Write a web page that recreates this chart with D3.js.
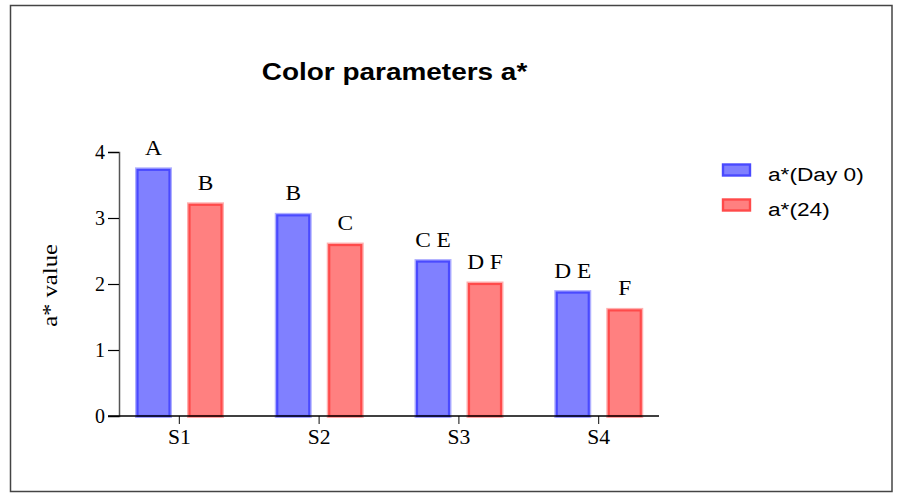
<!DOCTYPE html>
<html>
<head>
<meta charset="utf-8">
<script src="https://cdn.jsdelivr.net/npm/d3@7"></script>
<style>
  html, body { margin: 0; padding: 0; background: #fff; }
  svg { display: block; }
</style>
</head>
<body>
<svg id="chart" width="901" height="496"></svg>
<script>
// Samples and measurement series
const categories = ["S1", "S2", "S3", "S4"];
const seriesNames = ["a*(Day 0)", "a*(24)"];
const day0Values = [3.73, 3.04, 2.34, 1.87];
const day24Values = [3.20, 2.59, 2.00, 1.60];
const day0Letters = ["A", "B", "C E", "D E"];
const day24Letters = ["B", "C", "D F", "F"];
const yTicks = [0, 1, 2, 3, 4];

const fills = ["#8080ff", "#ff8080"];
const strokes = ["#4a4aff", "#ff4a4a"];
const halos = ["#b0b0ff", "#ffb0b0"];

const SANS = "Liberation Sans, Arial, Helvetica, sans-serif";
const SERIF = "Liberation Serif, Times New Roman, serif";

const rows = categories.map((c, i) => ({
  cat: c,
  vals: [
    { s: 0, v: day0Values[i], lab: day0Letters[i] },
    { s: 1, v: day24Values[i], lab: day24Letters[i] }
  ]
}));

const svg = d3.select("#chart");

// Text that is slightly widened along its writing direction
function wideText(parent, x, y, str, opts) {
  const g = parent.append("g")
    .attr("transform", `translate(${x},${y}) rotate(${opts.rotate || 0}) scale(${opts.sx || 1},1)`);
  return g.append("text")
    .attr("text-anchor", opts.anchor || "middle")
    .attr("font-family", opts.family)
    .attr("font-size", opts.size)
    .attr("font-weight", opts.weight || "normal")
    .attr("fill", "#000")
    .text(str);
}

// Outer frame
svg.append("rect")
  .attr("x", 10.5).attr("y", 5.5)
  .attr("width", 881.5).attr("height", 486)
  .attr("fill", "none")
  .attr("stroke", "#444")
  .attr("stroke-width", 1.5);

const x = d3.scaleBand().domain(categories).range([109.5, 668.5]);
const x1 = d3.scaleBand().domain([0, 1]).range([28, 112]).paddingInner(20 / 52);
const y = d3.scaleLinear().domain([0, 4]).range([416, 152]);

// Title
wideText(svg, 394.5, 79.5, "Color parameters a*",
  { family: SANS, size: 23.3, weight: "bold", sx: 1.2 });

// Bars
const groups = svg.append("g").selectAll("g")
  .data(rows).join("g")
  .attr("transform", d => `translate(${x(d.cat)},0)`);

groups.selectAll("rect.halo")
  .data(d => d.vals).join("rect")
  .attr("class", "halo")
  .attr("x", d => x1(d.s) - 0.5)
  .attr("y", d => y(d.v) - 0.5)
  .attr("width", x1.bandwidth() + 1)
  .attr("height", d => y(0) - y(d.v) + 0.5)
  .attr("fill", "none")
  .attr("stroke", d => halos[d.s])
  .attr("stroke-width", 4);

groups.selectAll("rect.bar")
  .data(d => d.vals).join("rect")
  .attr("class", "bar")
  .attr("x", d => x1(d.s))
  .attr("y", d => y(d.v))
  .attr("width", x1.bandwidth())
  .attr("height", d => y(0) - y(d.v))
  .attr("fill", d => fills[d.s])
  .attr("stroke", d => strokes[d.s])
  .attr("stroke-width", 2.2);

// Significance letters above each bar
groups.each(function (d) {
  const g = d3.select(this);
  d.vals.forEach(b => {
    wideText(g, x1(b.s) + x1.bandwidth() / 2, y(b.v) - 15, b.lab,
      { family: SERIF, size: 20, sx: 1.17 });
  });
});

// Y axis
const yAxis = svg.append("g")
  .attr("transform", "translate(119,0)")
  .call(d3.axisLeft(y).tickValues(yTicks).tickSize(11).tickPadding(3).tickFormat(d3.format("d")));
yAxis.select(".domain").attr("stroke", "#555").attr("stroke-width", 1.5);
yAxis.selectAll(".tick line").attr("stroke", "#000").attr("stroke-width", 1.2);
yAxis.selectAll(".tick text")
  .attr("font-family", SERIF)
  .attr("font-size", 20)
  .attr("fill", "#000");

// X axis
const xAxis = svg.append("g")
  .attr("transform", "translate(0,416)")
  .call(d3.axisBottom(x).tickSize(8).tickPadding(6).tickSizeOuter(0));
xAxis.select(".domain").remove();
xAxis.append("line")
  .attr("x1", 108).attr("x2", 659)
  .attr("stroke", "#000").attr("stroke-width", 1.5);
xAxis.selectAll(".tick line").attr("stroke", "#333").attr("stroke-width", 1.2);
xAxis.selectAll(".tick text")
  .attr("font-family", SERIF)
  .attr("font-size", 20)
  .attr("fill", "#000")
  .attr("transform", "scale(1.08,1)");

// Y axis title
wideText(svg, 56.5, 285.5, "a* value",
  { family: SERIF, size: 22, sx: 1.12, rotate: -90 });

// Legend
const legend = svg.append("g").selectAll("g")
  .data(seriesNames).join("g")
  .attr("transform", (d, i) => `translate(723,${164.5 + i * 35})`);
legend.append("rect")
  .attr("width", 27).attr("height", 11)
  .attr("fill", (d, i) => fills[i])
  .attr("stroke", (d, i) => strokes[i])
  .attr("stroke-width", 2.4);
legend.each(function (d) {
  wideText(d3.select(this), 45, 16.5, d,
    { family: SANS, size: 18.6, sx: 1.22, anchor: "start" });
});
</script>
</body>
</html>
